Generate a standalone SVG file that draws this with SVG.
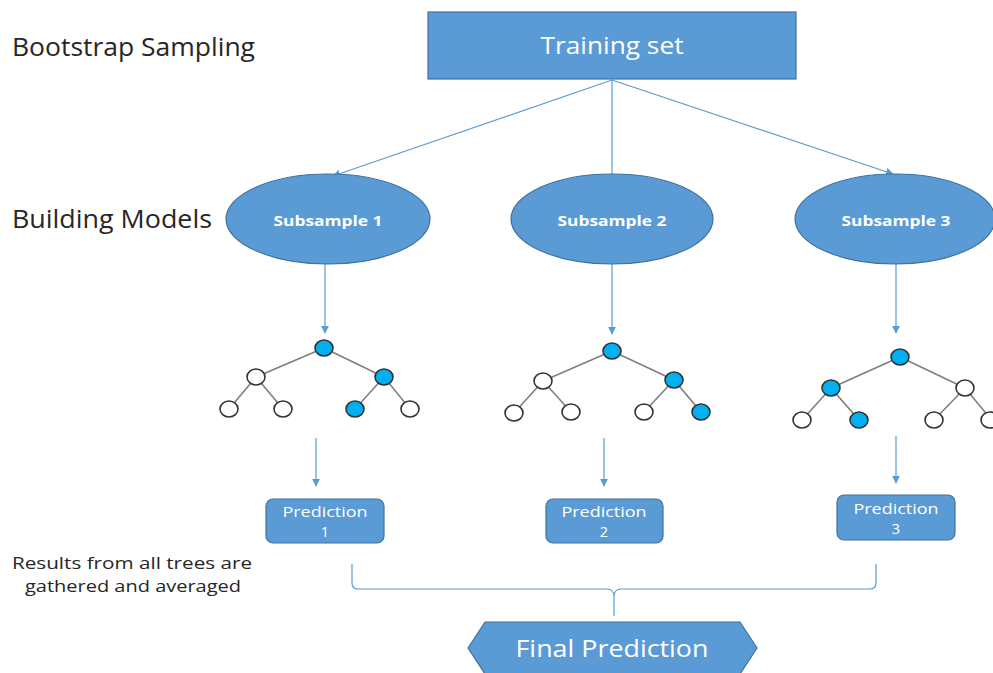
<svg xmlns="http://www.w3.org/2000/svg" width="993" height="673" viewBox="0 0 993 673">
  <defs>
    <style>
      .box { fill: #5B9BD5; stroke: #41719C; stroke-width: 1.2; }
      .lbl { font-family: "Open Sans", "Liberation Sans", sans-serif; fill: #ffffff; text-anchor: middle; }
      .side { font-family: "Open Sans", "Liberation Sans", sans-serif; fill: #262626; }
      .conn { stroke: #5B9BD5; stroke-width: 1.2; fill: none; }
      .edge { stroke: #7f7f7f; stroke-width: 1.6; }
      .leaf { fill: #ffffff; stroke: #333333; stroke-width: 1.6; }
      .hit { fill: #00B0F0; stroke: #333333; stroke-width: 1.6; }
    </style>
    <marker id="arr" viewBox="0 0 10 10" refX="9" refY="5" markerWidth="8" markerHeight="8" markerUnits="userSpaceOnUse" orient="auto">
      <path d="M0,0 L10,5 L0,10 z" fill="#5B9BD5"/>
    </marker>
  </defs>

  <!-- side captions -->
  <text class="side" x="12" y="56" font-size="25" textLength="243" lengthAdjust="spacingAndGlyphs">Bootstrap Sampling</text>
  <text class="side" x="12" y="228" font-size="25" textLength="200" lengthAdjust="spacingAndGlyphs">Building Models</text>
  <text class="side" x="132" y="569" font-size="16.5" text-anchor="middle" textLength="240" lengthAdjust="spacingAndGlyphs">Results from all trees are</text>
  <text class="side" x="133" y="592" font-size="16.5" text-anchor="middle" textLength="216" lengthAdjust="spacingAndGlyphs">gathered and averaged</text>

  <!-- connectors -->
  <g id="connectors">
    <line class="conn" x1="612" y1="80" x2="333" y2="176" marker-end="url(#arr)"/>
    <line class="conn" x1="612" y1="80" x2="612" y2="176"/>
    <line class="conn" x1="612" y1="80" x2="893" y2="174" marker-end="url(#arr)"/>
    <line class="conn" x1="325" y1="264" x2="325" y2="333" marker-end="url(#arr)"/>
    <line class="conn" x1="612" y1="264" x2="612" y2="334" marker-end="url(#arr)"/>
    <line class="conn" x1="896" y1="264" x2="896" y2="333" marker-end="url(#arr)"/>
    <line class="conn" x1="316" y1="438" x2="316" y2="486" marker-end="url(#arr)"/>
    <line class="conn" x1="604" y1="438" x2="604" y2="486" marker-end="url(#arr)"/>
    <line class="conn" x1="896" y1="436" x2="896" y2="483" marker-end="url(#arr)"/>
    <!-- brace gathering the predictions -->
    <path class="conn" d="M352,564 V583 Q352,589 358,589 H607 Q614,589 614,597 V616 M614,597 Q614,589 621,589 H870 Q876,589 876,583 V564"/>
  </g>

  <g id="training-set">
    <rect class="box" x="428" y="12" width="368" height="67"/>
    <text class="lbl" x="612" y="54" font-size="23" textLength="143" lengthAdjust="spacingAndGlyphs">Training set</text>
  </g>

  <g id="subsample-1">
    <ellipse class="box" cx="328" cy="219" rx="102" ry="45"/>
    <text class="lbl" x="328" y="226" font-size="15" font-weight="bold" textLength="109" lengthAdjust="spacingAndGlyphs">Subsample 1</text>
  </g>
  <g id="subsample-2">
    <ellipse class="box" cx="612" cy="219" rx="101" ry="45"/>
    <text class="lbl" x="612" y="226" font-size="15" font-weight="bold" textLength="109" lengthAdjust="spacingAndGlyphs">Subsample 2</text>
  </g>
  <g id="subsample-3">
    <ellipse class="box" cx="895" cy="219" rx="100" ry="45"/>
    <text class="lbl" x="896" y="226" font-size="15" font-weight="bold" textLength="109" lengthAdjust="spacingAndGlyphs">Subsample 3</text>
  </g>

  <g id="tree-1">
    <line class="edge" x1="324" y1="348" x2="256" y2="377"/>
    <line class="edge" x1="324" y1="348" x2="384" y2="377"/>
    <line class="edge" x1="256" y1="377" x2="229" y2="409"/>
    <line class="edge" x1="256" y1="377" x2="283" y2="409"/>
    <line class="edge" x1="384" y1="377" x2="355" y2="409"/>
    <line class="edge" x1="384" y1="377" x2="410" y2="409"/>
    <ellipse class="hit" cx="324" cy="348" rx="9" ry="8"/>
    <ellipse class="leaf" cx="256" cy="377" rx="9" ry="8"/>
    <ellipse class="hit" cx="384" cy="377" rx="9" ry="8"/>
    <ellipse class="leaf" cx="229" cy="409" rx="9" ry="8"/>
    <ellipse class="leaf" cx="283" cy="409" rx="9" ry="8"/>
    <ellipse class="hit" cx="355" cy="409" rx="9" ry="8"/>
    <ellipse class="leaf" cx="410" cy="409" rx="9" ry="8"/>
  </g>

  <g id="tree-2">
    <line class="edge" x1="612" y1="351" x2="543" y2="381"/>
    <line class="edge" x1="612" y1="351" x2="674" y2="380"/>
    <line class="edge" x1="543" y1="381" x2="514" y2="413"/>
    <line class="edge" x1="543" y1="381" x2="571" y2="412"/>
    <line class="edge" x1="674" y1="380" x2="644" y2="412"/>
    <line class="edge" x1="674" y1="380" x2="701" y2="412"/>
    <ellipse class="hit" cx="612" cy="351" rx="9" ry="8"/>
    <ellipse class="leaf" cx="543" cy="381" rx="9" ry="8"/>
    <ellipse class="hit" cx="674" cy="380" rx="9" ry="8"/>
    <ellipse class="leaf" cx="514" cy="413" rx="9" ry="8"/>
    <ellipse class="leaf" cx="571" cy="412" rx="9" ry="8"/>
    <ellipse class="leaf" cx="644" cy="412" rx="9" ry="8"/>
    <ellipse class="hit" cx="701" cy="412" rx="9" ry="8"/>
  </g>

  <g id="tree-3">
    <line class="edge" x1="900" y1="357" x2="831" y2="388"/>
    <line class="edge" x1="900" y1="357" x2="965" y2="388"/>
    <line class="edge" x1="831" y1="388" x2="802" y2="420"/>
    <line class="edge" x1="831" y1="388" x2="859" y2="420"/>
    <line class="edge" x1="965" y1="388" x2="934" y2="420"/>
    <line class="edge" x1="965" y1="388" x2="990" y2="418"/>
    <ellipse class="hit" cx="900" cy="357" rx="9" ry="8"/>
    <ellipse class="hit" cx="831" cy="388" rx="9" ry="8"/>
    <ellipse class="leaf" cx="965" cy="388" rx="9" ry="8"/>
    <ellipse class="leaf" cx="802" cy="420" rx="9" ry="8"/>
    <ellipse class="hit" cx="859" cy="420" rx="9" ry="8"/>
    <ellipse class="leaf" cx="934" cy="420" rx="9" ry="8"/>
    <ellipse class="leaf" cx="990" cy="420" rx="9" ry="8"/>
  </g>

  <g id="prediction-1">
    <rect class="box" x="266" y="499" width="118" height="44" rx="7"/>
    <text class="lbl" x="325" y="517" font-size="14.5" textLength="85" lengthAdjust="spacingAndGlyphs">Prediction</text>
    <text class="lbl" x="325" y="537" font-size="14.5">1</text>
  </g>
  <g id="prediction-2">
    <rect class="box" x="546" y="499" width="117" height="44" rx="7"/>
    <text class="lbl" x="604" y="517" font-size="14.5" textLength="85" lengthAdjust="spacingAndGlyphs">Prediction</text>
    <text class="lbl" x="604" y="537" font-size="14.5">2</text>
  </g>
  <g id="prediction-3">
    <rect class="box" x="837" y="495" width="118" height="45" rx="7"/>
    <text class="lbl" x="896" y="514" font-size="14.5" textLength="85" lengthAdjust="spacingAndGlyphs">Prediction</text>
    <text class="lbl" x="896" y="534" font-size="14.5">3</text>
  </g>

  <g id="final-prediction">
    <polygon class="box" points="468,648 485,622 740,622 757,648 740,674 485,674"/>
    <text class="lbl" x="612" y="657" font-size="23" textLength="193" lengthAdjust="spacingAndGlyphs">Final Prediction</text>
  </g>
</svg>
